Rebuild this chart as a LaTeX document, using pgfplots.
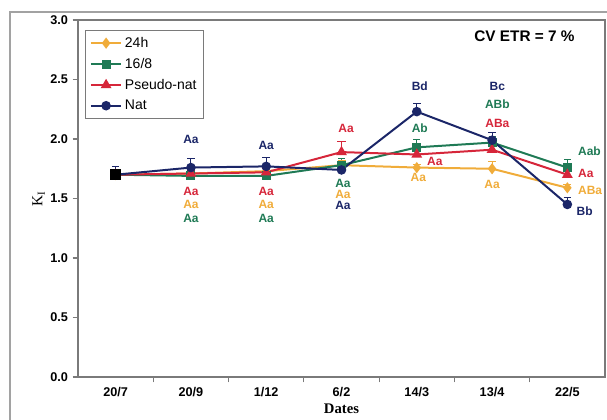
\documentclass[border=0pt]{standalone}
\usepackage{fontspec}
\setmainfont{Liberation Serif}
\setsansfont{Liberation Sans}
\usepackage{pgfplots}
\pgfplotsset{compat=1.18}
\definecolor{cYel}{HTML}{F0AC3A}
\definecolor{cGrn}{HTML}{1F7A55}
\definecolor{cRed}{HTML}{D6263A}
\definecolor{cNav}{HTML}{1B2668}
\definecolor{cAx}{HTML}{7A7A7A}
\tikzset{ann/.style={inner sep=0pt, font=\sffamily\bfseries\fontsize{9}{10}\selectfont}}
\begin{document}
\begin{tikzpicture}
\begin{axis}[
    scale only axis,
    width=395.25pt, height=267.75pt,
    xmin=-0.5, xmax=6.5, ymin=0, ymax=3,
    xtick={0,...,6},
    xticklabels={20/7,20/9,1/12,6/2,14/3,13/4,22/5},
    minor xtick={0.5,1.5,...,5.5},
    major x tick style={draw=none},
    ytick={0,0.5,...,3},
    tick pos=left,
    yticklabel style={/pgf/number format/.cd, fixed, fixed zerofill, precision=1, assume math mode=true},
    ticklabel style={font=\sffamily\bfseries\fontsize{9.5}{10}\selectfont},
    tick align=outside,
    axis line style={cAx, line width=0.8pt},
    tick style={cAx, line width=0.8pt},
    major tick length=4pt, minor tick length=4pt,
    ylabel={K\textsubscript{I}},
    ylabel style={at={(rel axis cs:0,0.5)}, yshift=29.5pt, anchor=center, font=\fontsize{11.5}{12}\selectfont},
    xlabel={\textbf{Dates}},
    xlabel style={at={(rel axis cs:0.5,0)}, yshift=-23.5pt, anchor=center, font=\fontsize{11}{12}\selectfont},
    clip=false,
    legend cell align=left,
    legend image code/.code={\draw[mark repeat=2, mark phase=2] plot coordinates {(0cm,0cm) (0.4cm,0cm) (0.8cm,0cm)};},
    legend style={at={(0.013,0.972)}, anchor=north west, draw=cAx, line width=0.6pt,
        font=\sffamily\fontsize{10.5}{11}\selectfont, row sep=2.6pt, inner xsep=3.5pt, inner ysep=3pt},
    error bars/error bar style={line width=0.8pt},
    every axis plot/.append style={line width=1.5pt},
]
\addplot[color=cYel, mark=diamond*, mark size=3pt,
    error bars/.cd, y dir=plus, y explicit] coordinates {
    (0,1.70) +- (0,0.00) (1,1.71) +- (0,0.02) (2,1.73) +- (0,0.02) (3,1.78) +- (0,0.04)
    (4,1.76) +- (0,0.03) (5,1.75) +- (0,0.06) (6,1.59) +- (0,0.03)
};
\addlegendentry{24h}
\addplot[color=cGrn, mark=square*, mark size=2.6pt,
    error bars/.cd, y dir=plus, y explicit] coordinates {
    (0,1.70) +- (0,0.00) (1,1.69) +- (0,0.02) (2,1.69) +- (0,0.03) (3,1.78) +- (0,0.06)
    (4,1.93) +- (0,0.07) (5,1.97) +- (0,0.05) (6,1.76) +- (0,0.07)
};
\addlegendentry{16/8}
\addplot[color=cRed, mark=triangle*, mark size=3.2pt,
    error bars/.cd, y dir=plus, y explicit] coordinates {
    (0,1.70) +- (0,0.00) (1,1.71) +- (0,0.03) (2,1.72) +- (0,0.03) (3,1.89) +- (0,0.09)
    (4,1.87) +- (0,0.03) (5,1.91) +- (0,0.04) (6,1.70) +- (0,0.03)
};
\addlegendentry{Pseudo-nat}
\addplot[color=cNav, mark=*, mark size=2.8pt,
    error bars/.cd, y dir=plus, y explicit] coordinates {
    (0,1.70) +- (0,0.07) (1,1.76) +- (0,0.08) (2,1.77) +- (0,0.08) (3,1.74) +- (0,0.04)
    (4,2.23) +- (0,0.07) (5,1.99) +- (0,0.07) (6,1.45) +- (0,0.06)
};
\addlegendentry{Nat}
\addplot[black, only marks, mark=square*, mark size=3.2pt, forget plot] coordinates {(0,1.70)};

% letters of significance
\node[ann, text=cNav] at (axis cs:1,2.00) {Aa};
\node[ann, text=cRed] at (axis cs:1,1.56) {Aa};
\node[ann, text=cYel] at (axis cs:1,1.45) {Aa};
\node[ann, text=cGrn] at (axis cs:1,1.33) {Aa};
\node[ann, text=cNav] at (axis cs:2,1.95) {Aa};
\node[ann, text=cRed] at (axis cs:2,1.56) {Aa};
\node[ann, text=cYel] at (axis cs:2,1.45) {Aa};
\node[ann, text=cGrn] at (axis cs:2,1.33) {Aa};
\node[ann, text=cRed] at (axis cs:3.06,2.09) {Aa};
\node[ann, text=cGrn] at (axis cs:3.02,1.63) {Aa};
\node[ann, text=cYel] at (axis cs:3.02,1.535) {Aa};
\node[ann, text=cNav] at (axis cs:3.02,1.44) {Aa};
\node[ann, text=cNav] at (axis cs:4.04,2.44) {Bd};
\node[ann, text=cGrn] at (axis cs:4.04,2.09) {Ab};
\node[ann, text=cRed] at (axis cs:4.24,1.81) {Aa};
\node[ann, text=cYel] at (axis cs:4.02,1.68) {Aa};
\node[ann, text=cNav] at (axis cs:5.07,2.44) {Bc};
\node[ann, text=cGrn] at (axis cs:5.07,2.29) {ABb};
\node[ann, text=cRed] at (axis cs:5.07,2.13) {ABa};
\node[ann, text=cYel] at (axis cs:5.00,1.62) {Aa};
\node[ann, text=cGrn, anchor=west] at (axis cs:6.14,1.90) {Aab};
\node[ann, text=cRed, anchor=west] at (axis cs:6.14,1.71) {Aa};
\node[ann, text=cYel, anchor=west] at (axis cs:6.14,1.57) {ABa};
\node[ann, text=cNav, anchor=west] at (axis cs:6.12,1.39) {Bb};
\node[font=\sffamily\bfseries\fontsize{11.5}{12}\selectfont] at (axis cs:5.43,2.86) {CV ETR = 7 \%};
\coordinate (O) at (rel axis cs:0,0);
\end{axis}
\draw[cAx!70, line width=0.8pt] ([shift={(-51pt,-40pt)}]O) -- ([shift={(-51pt,273.75pt)}]O) -- ([shift={(400pt,273.75pt)}]O);
\pgfresetboundingbox
\path[use as bounding box] ([shift={(-58.5pt,-31.5pt)}]O) rectangle ([shift={(396.75pt,282.75pt)}]O);
\end{tikzpicture}
\end{document}
